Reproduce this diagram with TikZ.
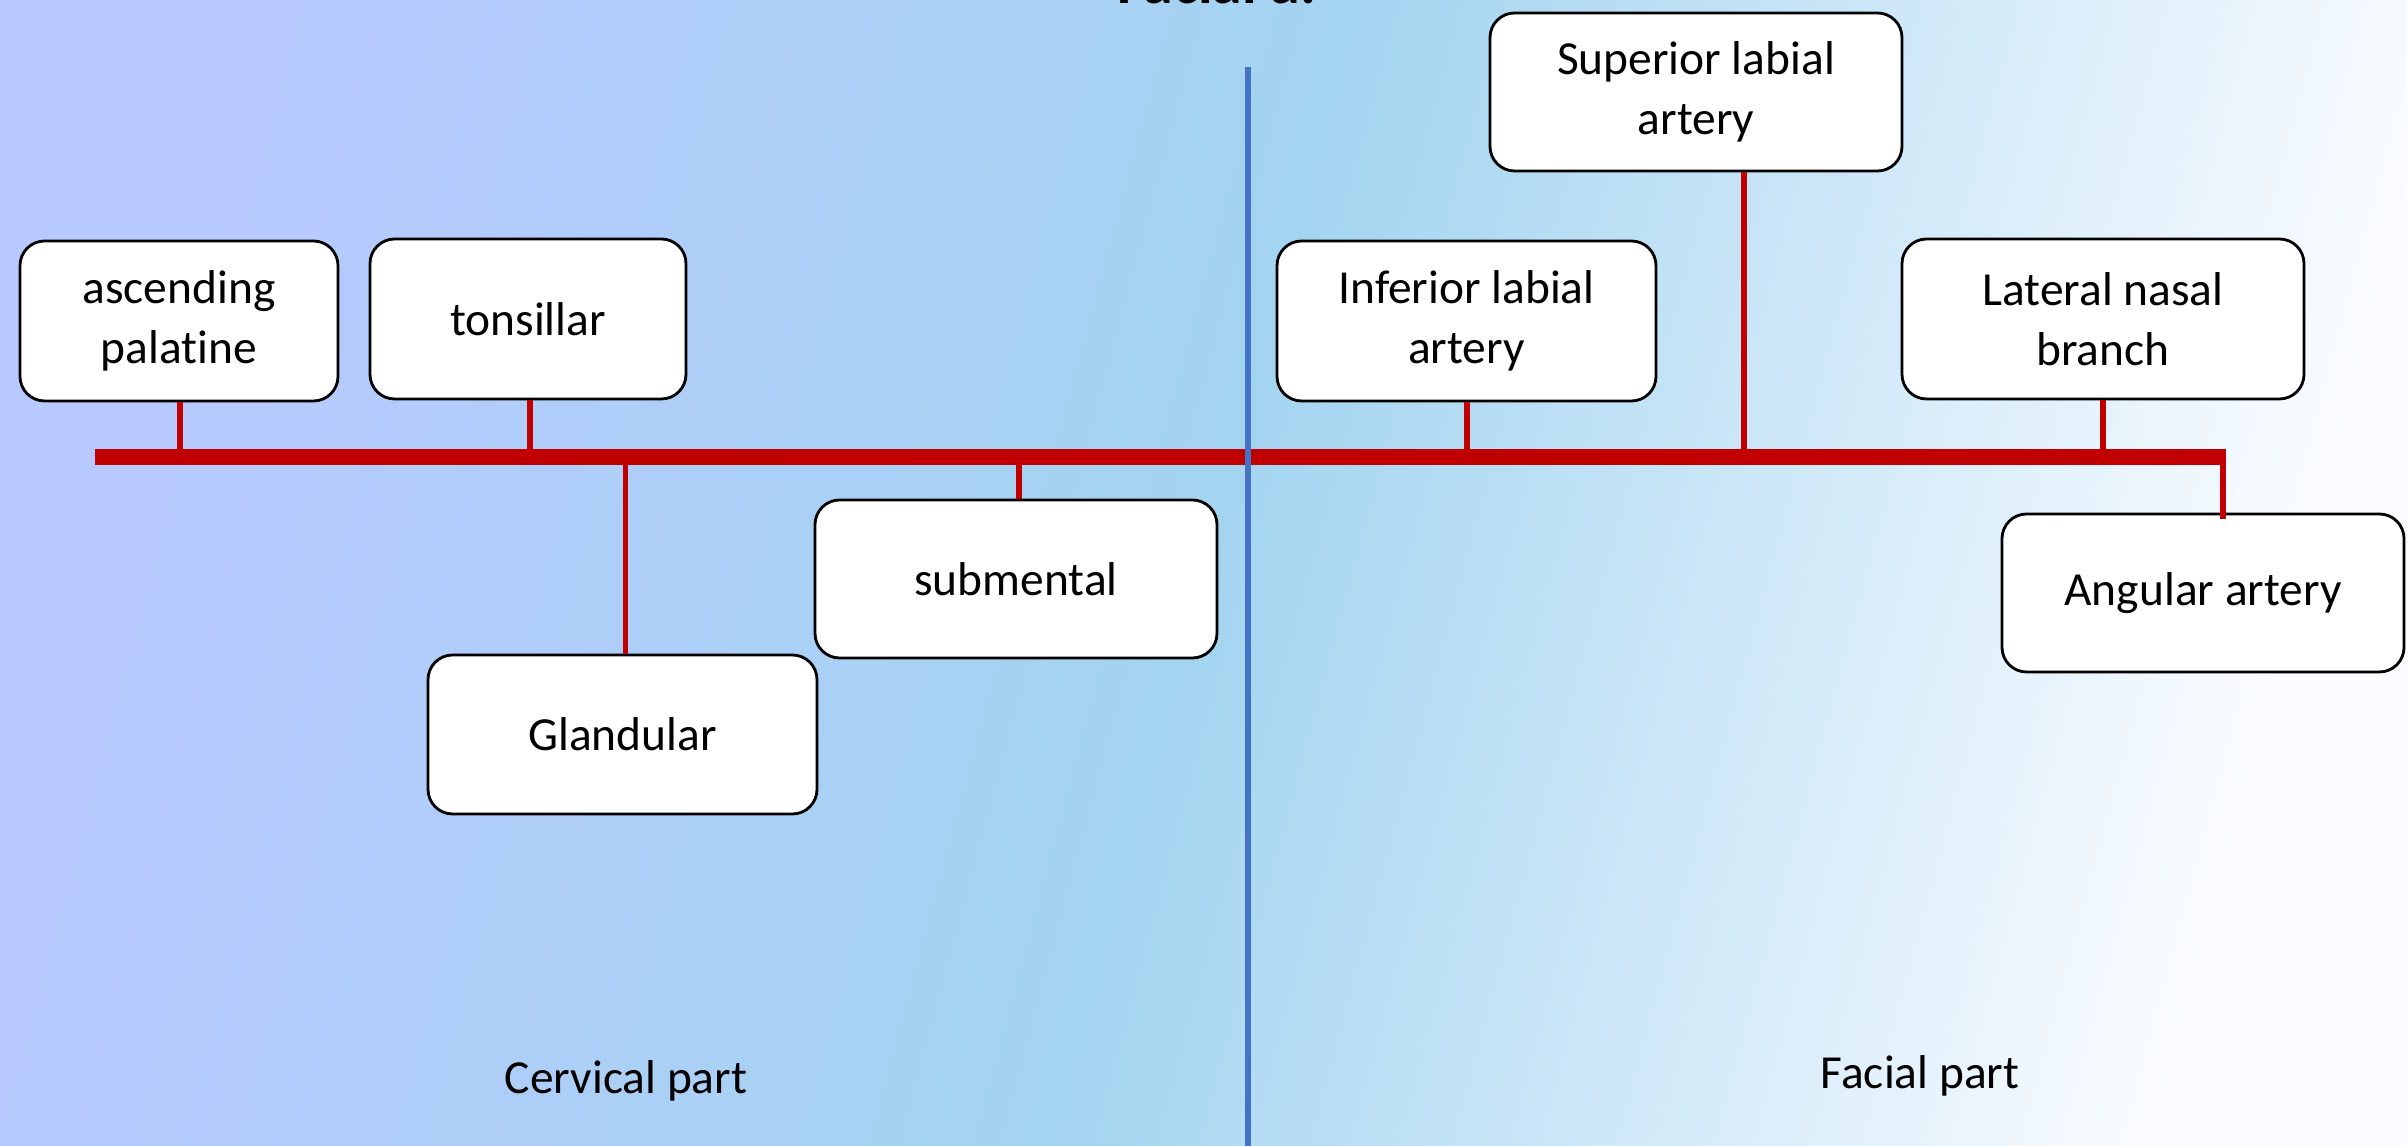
\documentclass[tikz,border=0pt]{standalone}
\usepackage{fontspec}
\setmainfont[Ligatures=NoCommon]{Carlito}
\definecolor{artred}{RGB}{192,0,0}
\definecolor{divblue}{RGB}{68,114,196}
\definecolor{bgleft}{RGB}{184,201,255}
\definecolor{bgmid}{RGB}{163,212,240}
\definecolor{bgright}{RGB}{250,252,255}
\tikzset{
  branchbox/.style={draw=black, line width=0.8pt, fill=white, rounded corners=7pt,
    align=center, inner sep=0pt, font=\fontsize{13.5}{17}\selectfont},
  trunk/.style={artred, line width=4.6pt},
  branch/.style={artred, line width=1.7pt},
  partlabel/.style={font=\fontsize{13.5}{17}\selectfont}
}
\begin{document}
\begin{tikzpicture}
\useasboundingbox (0,0) rectangle (24.07,11.46);
\clip (0,0) rectangle (24.07,11.46);
% background
\shade[left color=bgleft, right color=bgright, middle color=bgmid, shading angle=75]
  (0,0) rectangle (24.07,11.46);
% title (cut by the page edge)
\node[font=\fontsize{17}{20}\bfseries, anchor=base] (title) at (12.17,11.42) {Facial a.};
% divider
\coordinate (divtop) at (12.48,10.79);
\coordinate (divbot) at (12.48,0);
% boxes
\node[branchbox, minimum width=3.18cm, minimum height=1.60cm] (asc)   at (1.79,8.25)  {ascending\\palatine};
\node[branchbox, minimum width=3.16cm, minimum height=1.60cm] (tons)  at (5.28,8.27)  {tonsillar};
\node[branchbox, minimum width=3.89cm, minimum height=1.59cm] (gland) at (6.225,4.115) {Glandular};
\node[branchbox, minimum width=4.02cm, minimum height=1.58cm] (subm)  at (10.16,5.67) {submental};
\node[branchbox, minimum width=3.79cm, minimum height=1.60cm] (inf)   at (14.665,8.25) {Inferior labial\\artery};
\node[branchbox, minimum width=4.12cm, minimum height=1.58cm] (sup)   at (16.96,10.54) {Superior labial\\artery};
\node[branchbox, minimum width=4.02cm, minimum height=1.60cm] (lat)   at (21.03,8.27)  {Lateral nasal\\branch};
\node[branchbox, minimum width=4.02cm, minimum height=1.58cm] (ang)   at (22.03,5.53)  {Angular artery};
% trunk
\coordinate (tl) at (0.95,6.89);
\coordinate (tr) at (22.26,6.89);
\coordinate (supj) at (17.44,6.89);
\coordinate (angj) at (22.23,6.89);
\draw[branch] ([xshift=0.01cm]asc.south) -- ([xshift=0.01cm]asc.south |- tl);
\draw[branch] ([xshift=0.02cm]tons.south) -- ([xshift=0.02cm]tons.south |- tl);
\draw[branch] ([xshift=0.03cm]gland.north) -- ([xshift=0.03cm]gland.north |- tl);
\draw[branch] ([xshift=0.03cm]subm.north) -- ([xshift=0.03cm]subm.north |- tl);
\draw[branch] (inf.south) -- (inf.south |- tl);
\draw[branch] (sup.south -| supj) -- (supj);
\draw[branch] (lat.south) -- (lat.south |- tl);
\draw[branch] (angj) -- ([yshift=-0.06cm]ang.north -| angj);
\draw[trunk] (tl) -- (tr);
% divider over the trunk
\draw[divblue, line width=1.7pt] (divtop) -- (divbot);
% parts
\node[partlabel] (cerv) at (6.26,0.65) {Cervical part};
\node[partlabel] (fac) at (19.20,0.70) {Facial part};
\end{tikzpicture}
\end{document}
